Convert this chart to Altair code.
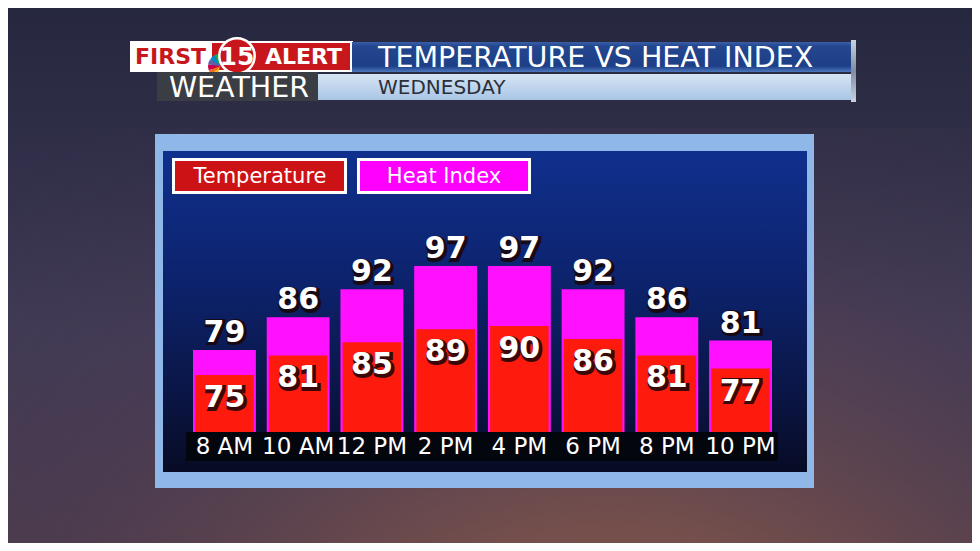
import altair as alt
import pandas as pd

# ---- data ----
times = ["8 AM", "10 AM", "12 PM", "2 PM", "4 PM", "6 PM", "8 PM", "10 PM"]
temperature = [75, 81, 85, 89, 90, 86, 81, 77]
heat_index = [79, 86, 92, 97, 97, 92, 86, 81]
legend_labels = ["Temperature", "Heat Index"]
title_text = "TEMPERATURE VS HEAT INDEX"
subtitle_text = "WEDNESDAY"
peacock_colors = ["#fcb711", "#f37021", "#cc004c", "#6460aa", "#0089d0", "#0db14b"]

df = pd.DataFrame({"time": times, "temp": temperature, "heat": heat_index})
one = pd.DataFrame({"k": [0]})
peacock = pd.DataFrame({"c": peacock_colors, "v": [1] * len(peacock_colors),
                        "o": list(range(len(peacock_colors)))})

W, H = 964, 535
FONT = "DejaVu Sans"


def grad(stops, x1=0, y1=0, x2=0, y2=1):
    return alt.Gradient(gradient="linear",
                        stops=[alt.GradientStop(color=c, offset=o) for o, c in stops],
                        x1=x1, y1=y1, x2=x2, y2=y2)


def box(x, x2, y, y2, **kw):
    return alt.Chart(one).mark_rect(**kw).encode(
        x=alt.value(x), x2=alt.value(x2), y=alt.value(y), y2=alt.value(y2))


def label(txt, x, y, **kw):
    kw.setdefault("font", FONT)
    return alt.Chart(one).mark_text(text=txt, **kw).encode(x=alt.value(x), y=alt.value(y))


# ---- background ----
bg = box(-10, W + 10, -10, H + 10,
         fill=grad([(0, "#25273f"), (0.3, "#312f49"), (0.6, "#403a55"), (1, "#4a3a4c")]))
glow = box(-10, W + 10, 120, H + 10,
           fill=alt.Gradient(gradient="radial",
                             stops=[alt.GradientStop(color="rgba(190,115,60,0.9)", offset=0),
                                    alt.GradientStop(color="rgba(150,95,75,0.55)", offset=0.35),
                                    alt.GradientStop(color="rgba(90,65,85,0.2)", offset=0.7),
                                    alt.GradientStop(color="rgba(70,58,85,0)", offset=1)],
                             x1=0.62, y1=1.0, r1=0, x2=0.62, y2=1.0, r2=0.9))

# ---- header ----
logo_white = box(122, 345, 33, 64, fill="#ffffff")
logo_red = box(204, 342, 35, 62, fill="#c8161d")
first_t = label("FIRST", 127, 49, fontSize=22, fontWeight="bold", color="#c8161d",
                align="left", baseline="middle")
alert_t = label("ALERT", 257, 49, fontSize=22, fontWeight="bold", color="#ffffff",
                align="left", baseline="middle")
fan = alt.Chart(peacock).mark_arc(radius=12).encode(
    theta=alt.Theta("v:Q", stack=True, scale=alt.Scale(range=[3.4, 6.28])),
    color=alt.Color("c:N", scale=None, legend=None),
    order=alt.Order("o:Q"),
    x=alt.value(212), y=alt.value(58))
circle15 = alt.Chart(one).mark_point(shape="circle", filled=True, size=1250, fill="#c8161d",
                                     stroke="#ffffff", strokeWidth=2.5, opacity=1).encode(
    x=alt.value(229), y=alt.value(48))
t15 = label("15", 229, 49, fontSize=25, fontWeight="bold", color="#ffffff",
            align="center", baseline="middle")
weather_box = box(149, 310, 64, 93, fill="#3b3d45")
weather_t = label("WEATHER", 231, 80, fontSize=28.5, color="#ffffff", align="center",
                  baseline="middle")
title_bar = box(344, 843, 34, 64,
                fill=grad([(0, "#3a5fa6"), (0.15, "#23468f"), (0.8, "#1d3f88"), (1, "#4d78bd")]))
title_t = label(title_text, 370, 50, fontSize=28.5, color="#ffffff", align="left",
                baseline="middle")
sub_bar = box(310, 843, 66, 92,
              fill=grad([(0, "#d6e5f4"), (1, "#a9c5e5")]))
sub_t = label(subtitle_text, 370, 80, fontSize=20, color="#2b2f3a", align="left",
              baseline="middle")
endcap = box(843, 848, 32, 94, fill=grad([(0, "#c9d2df"), (0.5, "#7f8da3"), (1, "#c9d2df")]))

# ---- panel ----
frame = box(147, 806, 126, 480, fill="#8fb7e8")
inner = box(155, 799, 143, 464,
            fill=grad([(0, "#10308e"), (0.45, "#0c2168"), (0.8, "#0a1440"), (1, "#070b24")]))
leg_temp = box(165.5, 337.5, 151.5, 184.5, fill="#cd1216", stroke="#ffffff", strokeWidth=3)
leg_heat = box(350.5, 521.5, 151.5, 184.5, fill="#ff00ff", stroke="#ffffff", strokeWidth=3)
leg_temp_t = label(legend_labels[0], 252, 169, fontSize=21, color="#ffffff",
                   align="center", baseline="middle")
leg_heat_t = label(legend_labels[1], 436, 169, fontSize=21, color="#ffffff",
                   align="center", baseline="middle")
strip = box(178, 770, 424, 453, fill="#04060d")

# ---- bars ----
x_scale = alt.Scale(domain=times, range=[185, 764], paddingInner=0.147, paddingOuter=0)
heat_scale = alt.Scale(domain=[61.4, 97], range=[424, 258], zero=False, nice=False)
temp_scale = alt.Scale(domain=[57.6, 90], range=[424, 318], zero=False, nice=False)
X = alt.X("time:N", scale=x_scale, axis=None, sort=times)

base = alt.Chart(df)
heat_bars = base.mark_bar(color="#ff10ff").encode(
    x=X, y=alt.Y("heat:Q", scale=heat_scale, axis=None), y2=alt.Y2Datum(61.4))
temp_bars = base.mark_bar(color="#ff1a0e", width=alt.RelativeBandSize(0.93)).encode(
    x=X, y=alt.Y("temp:Q", scale=temp_scale, axis=None), y2=alt.Y2Datum(57.6))


def value_text(field, scale, dy):
    shadow = base.mark_text(font=FONT, fontSize=30, fontWeight="bold", color="#1a0606",
                            stroke="#1a0606", strokeWidth=4, opacity=0.85,
                            baseline="alphabetic", dy=dy + 1.5, dx=1.5).encode(
        x=X, y=alt.Y(f"{field}:Q", scale=scale, axis=None), text=alt.Text(f"{field}:Q"))
    front = base.mark_text(font=FONT, fontSize=30, fontWeight="bold", color="#ffffff",
                           baseline="alphabetic", dy=dy).encode(
        x=X, y=alt.Y(f"{field}:Q", scale=scale, axis=None), text=alt.Text(f"{field}:Q"))
    return shadow + front


heat_txt = value_text("heat", heat_scale, -8)
temp_txt = value_text("temp", temp_scale, 32)
xlab = base.mark_text(font=FONT, fontSize=23, color="#ffffff", baseline="middle").encode(
    x=X, y=alt.value(439), text=alt.Text("time:N"))

chart = alt.layer(
    bg, glow,
    logo_white, logo_red, first_t, alert_t, fan, circle15, t15,
    weather_box, weather_t, title_bar, title_t, sub_bar, sub_t, endcap,
    frame, inner, leg_temp, leg_heat, leg_temp_t, leg_heat_t, strip,
    heat_bars, temp_bars, heat_txt, temp_txt, xlab,
).resolve_scale(y="independent").properties(
    width=W, height=H, padding=0, autosize=alt.AutoSizeParams(type="none"),
    background="#2b2c46",
).configure_view(stroke=None)

chart.save("out.html", embed_options={"renderer": "svg", "actions": False})
